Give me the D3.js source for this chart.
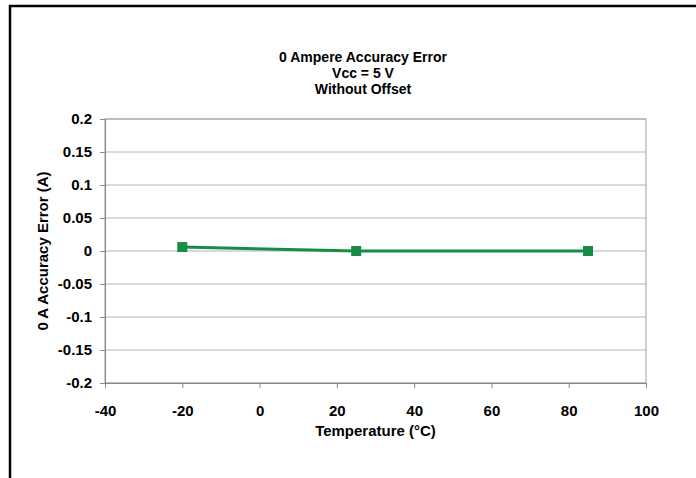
<!DOCTYPE html>
<html>
<head>
<meta charset="utf-8">
<script src="https://cdn.jsdelivr.net/npm/d3@7"></script>
<style>
  body { margin: 0; background: #fff; }
  text { font-family: "Liberation Sans", Arial, sans-serif; font-weight: bold; fill: #000; }
</style>
</head>
<body>
<svg width="696" height="478"></svg>
<script>
// data
const temperatures = [-20, 25, 85];
const errors = [0.006, 0.0, 0.0];
const xTicks = [-40, -20, 0, 20, 40, 60, 80, 100];
const yTicks = [0.2, 0.15, 0.1, 0.05, 0, -0.05, -0.1, -0.15, -0.2];
const titleLines = ["0 Ampere Accuracy Error", "Vcc = 5 V", "Without Offset"];

const svg = d3.select("svg");
const margin = { top: 119, right: 50, bottom: 95, left: 105 };
const width = +svg.attr("width") - margin.left - margin.right;
const height = +svg.attr("height") - margin.top - margin.bottom;
const fontSize = 15;

// outer frame, runs off the right and bottom edges
svg.append("rect")
  .attr("x", 10).attr("y", 6)
  .attr("width", 720).attr("height", 500)
  .attr("fill", "none")
  .attr("stroke", "#000")
  .attr("stroke-width", 2.5);

const g = svg.append("g").attr("transform", "translate(" + margin.left + "," + margin.top + ")");

let x = d3.scaleLinear().domain([-40, 100]).range([0, width]);
let y = d3.scaleLinear().domain([-0.2, 0.2]).range([height, 0]);

// grid
g.selectAll(".grid")
  .data(yTicks)
  .enter().append("line")
  .attr("x1", 0).attr("x2", width)
  .attr("y1", d => y(d)).attr("y2", d => y(d))
  .attr("stroke", "#b4b4b4")
  .attr("stroke-width", 1);

// plot frame
g.append("rect")
  .attr("width", width).attr("height", height)
  .attr("fill", "none")
  .attr("stroke", "#a0a0a0")
  .attr("stroke-width", 1);

const xAxis = g.append("g")
  .attr("transform", "translate(0," + height + ")")
  .call(d3.axisBottom(x).tickValues(xTicks).tickSize(5).tickPadding(17).tickFormat(d => String(d)));

const yAxis = g.append("g")
  .call(d3.axisLeft(y).tickValues(yTicks).tickSize(5).tickPadding(8).tickFormat(d => String(d)));

[xAxis, yAxis].forEach(a => {
  a.attr("font-size", fontSize).attr("font-family", null);
  a.select(".domain").attr("stroke", "#888");
  a.selectAll(".tick line").attr("stroke", "#888");
  a.selectAll("text").attr("fill", "#000");
});

// axis titles
g.append("text")
  .attr("x", width / 2)
  .attr("y", height + 53)
  .attr("text-anchor", "middle")
  .attr("font-size", fontSize)
  .text("Temperature (°C)");

g.append("text")
  .attr("transform", "rotate(-90)")
  .attr("x", -height / 2)
  .attr("y", -57.5)
  .attr("text-anchor", "middle")
  .attr("font-size", fontSize)
  .text("0 A Accuracy Error (A)");

// title, three stacked lines
svg.append("g").selectAll("text")
  .data(titleLines)
  .enter().append("text")
  .attr("x", 363)
  .attr("y", (d, i) => 62 + i * 15.8)
  .attr("text-anchor", "middle")
  .attr("font-size", 14)
  .text(d => d);

// series
const points = temperatures.map((t, i) => ({ t: t, v: errors[i] }));

g.append("path")
  .datum(points)
  .attr("fill", "none")
  .attr("stroke", "#178c44")
  .attr("stroke-width", 3)
  .attr("d", d3.line().x(d => x(d.t)).y(d => y(d.v)));

g.selectAll(".marker")
  .data(points)
  .enter().append("rect")
  .attr("class", "marker")
  .attr("x", d => x(d.t) - 5)
  .attr("y", d => y(d.v) - 5)
  .attr("width", 10)
  .attr("height", 10)
  .attr("fill", "#178c44");
</script>
</body>
</html>
